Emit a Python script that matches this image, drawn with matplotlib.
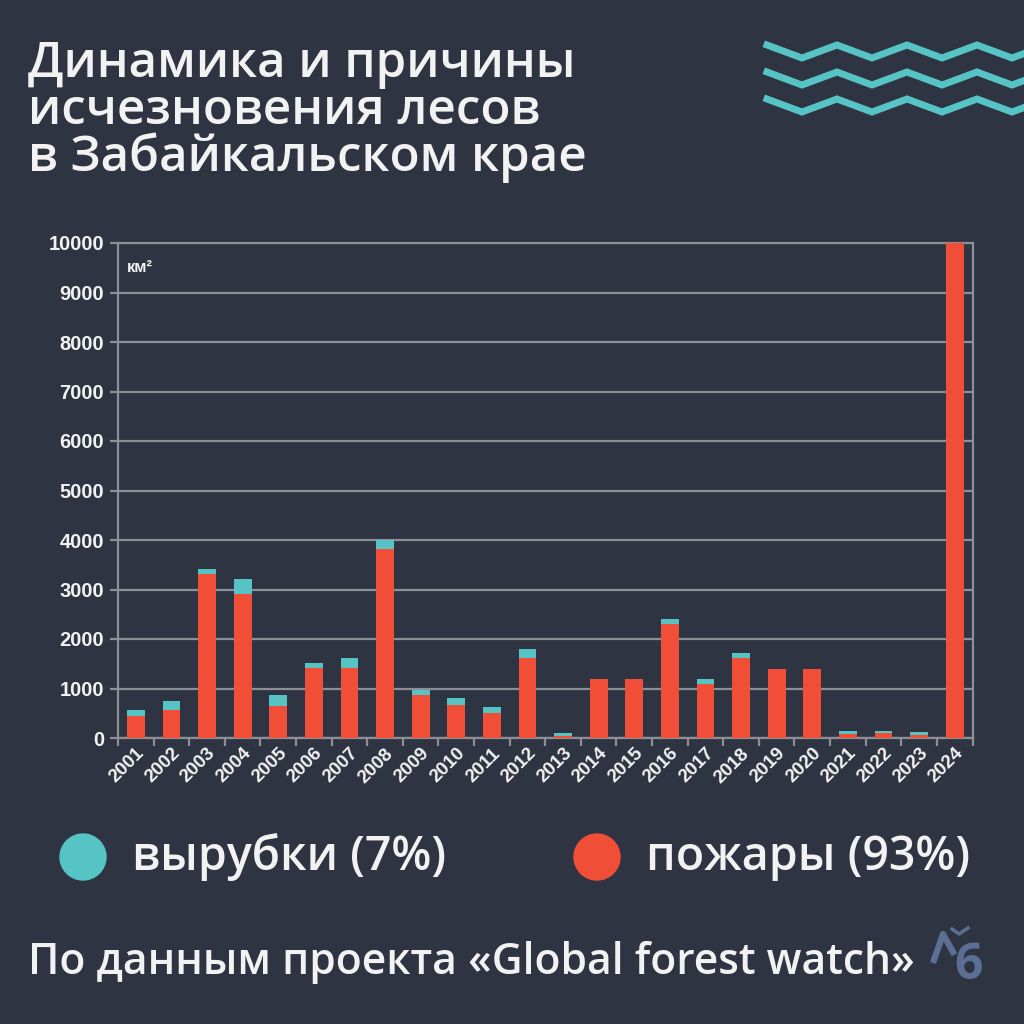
import numpy as np
import matplotlib.pyplot as plt
from matplotlib.lines import Line2D
from matplotlib.patches import Circle

# data (km2)
years = [str(y) for y in range(2001, 2025)]
fires = [440, 560, 3310, 2910, 650, 1410, 1410, 3810, 860, 660, 500, 1610,
         50, 1200, 1200, 2310, 1100, 1610, 1400, 1400, 90, 95, 55, 10000]
logging = [120, 190, 100, 300, 225, 100, 205, 190, 100, 155, 125, 195,
           60, 0, 0, 100, 100, 100, 0, 0, 45, 55, 65, 0]
y_ticks = list(range(0, 10001, 1000))

BG = "#2e3441"
RED = "#f04e37"
TEAL = "#56c3c5"
GRID = "#8c8f95"
WHITE = "#f2f2f2"
HEAD = ["Open Sans", "DejaVu Sans"]

fig = plt.figure(figsize=(10.24, 10.24), dpi=100)
fig.patch.set_facecolor(BG)

# title
title_font = dict(family=HEAD, weight="semibold", size=35.5, color=WHITE)
for txt, yb in [("Динамика и причины", 77), ("исчезновения лесов", 124),
                ("в Забайкальском крае", 171)]:
    fig.text(28 / 1024, 1 - yb / 1024, txt, va="baseline", ha="left", **title_font)

# decorative zigzags
for k in range(3):
    xs = np.arange(767, 1060, 35)
    ys = np.where(np.arange(len(xs)) % 2 == 0, 45, 58) + 27 * k
    fig.add_artist(Line2D(xs / 1024, 1 - ys / 1024, color=TEAL, lw=5,
                          solid_joinstyle="miter", transform=fig.transFigure))

# chart
ax = fig.add_axes([118 / 1024, 1 - 738 / 1024, 854.5 / 1024, 495 / 1024])
ax.set_facecolor(BG)
x = np.arange(len(years))
ax.bar(x, fires, width=0.5, color=RED, zorder=3)
ax.bar(x, logging, width=0.5, bottom=fires, color=TEAL, zorder=3)

ax.set_xlim(-0.5, len(years) - 0.5)
ax.set_ylim(0, 10000)
ax.set_yticks(y_ticks)
ax.set_yticklabels([str(v) for v in y_ticks], fontfamily="Liberation Sans",
                   fontweight="bold", fontsize=14.5, color=WHITE)
ax.yaxis.grid(True, color=GRID, lw=1.6, zorder=0)
ax.tick_params(axis="y", length=6, width=1.6, color=GRID, pad=4)

ax.set_xticks(x)
ax.set_xticklabels(years, rotation=45, ha="right", rotation_mode="anchor",
                   fontfamily="Liberation Sans", fontweight="bold",
                   fontsize=13.5, color=WHITE)
ax.tick_params(axis="x", length=0, pad=5)
ax.set_xticks(np.arange(-0.5, len(years)), minor=True)
ax.tick_params(axis="x", which="minor", length=6, width=1.6, color=GRID)

for side in ["left", "right", "bottom", "top"]:
    ax.spines[side].set_color(GRID)
    ax.spines[side].set_linewidth(1.6)

ax.text(0.01, 0.965, "км²", transform=ax.transAxes, ha="left", va="top",
        fontfamily="Liberation Sans", fontweight="bold", fontsize=12, color=WHITE)

# legend
for cx, col, label in [(83, TEAL, "вырубки (7%)"), (597, RED, "пожары (93%)")]:
    fig.add_artist(Circle((cx / 1024, 1 - 857 / 1024), 23 / 1024, color=col,
                          transform=fig.transFigure))
    fig.text((cx + 49) / 1024, 1 - 870 / 1024, label, va="baseline", ha="left",
             family=HEAD, weight="semibold", size=33.5, color=WHITE)

# footer
fig.text(28 / 1024, 1 - 974 / 1024, "По данным проекта «Global forest watch»",
         va="baseline", ha="left", family=HEAD, weight="semibold",
         size=30.7, color=WHITE)

# small logo
LOGO = "#5b6e94"
fig.add_artist(Line2D(np.array([934, 943, 953]) / 1024,
                      1 - np.array([960, 934, 952]) / 1024,
                      color=LOGO, lw=4.5, transform=fig.transFigure))
fig.add_artist(Line2D(np.array([952, 959, 968]) / 1024,
                      1 - np.array([929, 934, 928]) / 1024,
                      color=LOGO, lw=2.5, transform=fig.transFigure))
fig.text(969 / 1024, 1 - 966 / 1024, "6", ha="center", va="center",
         family=HEAD, weight="bold", size=36, color=LOGO)

fig.savefig("out.png", dpi=100, facecolor=BG)
